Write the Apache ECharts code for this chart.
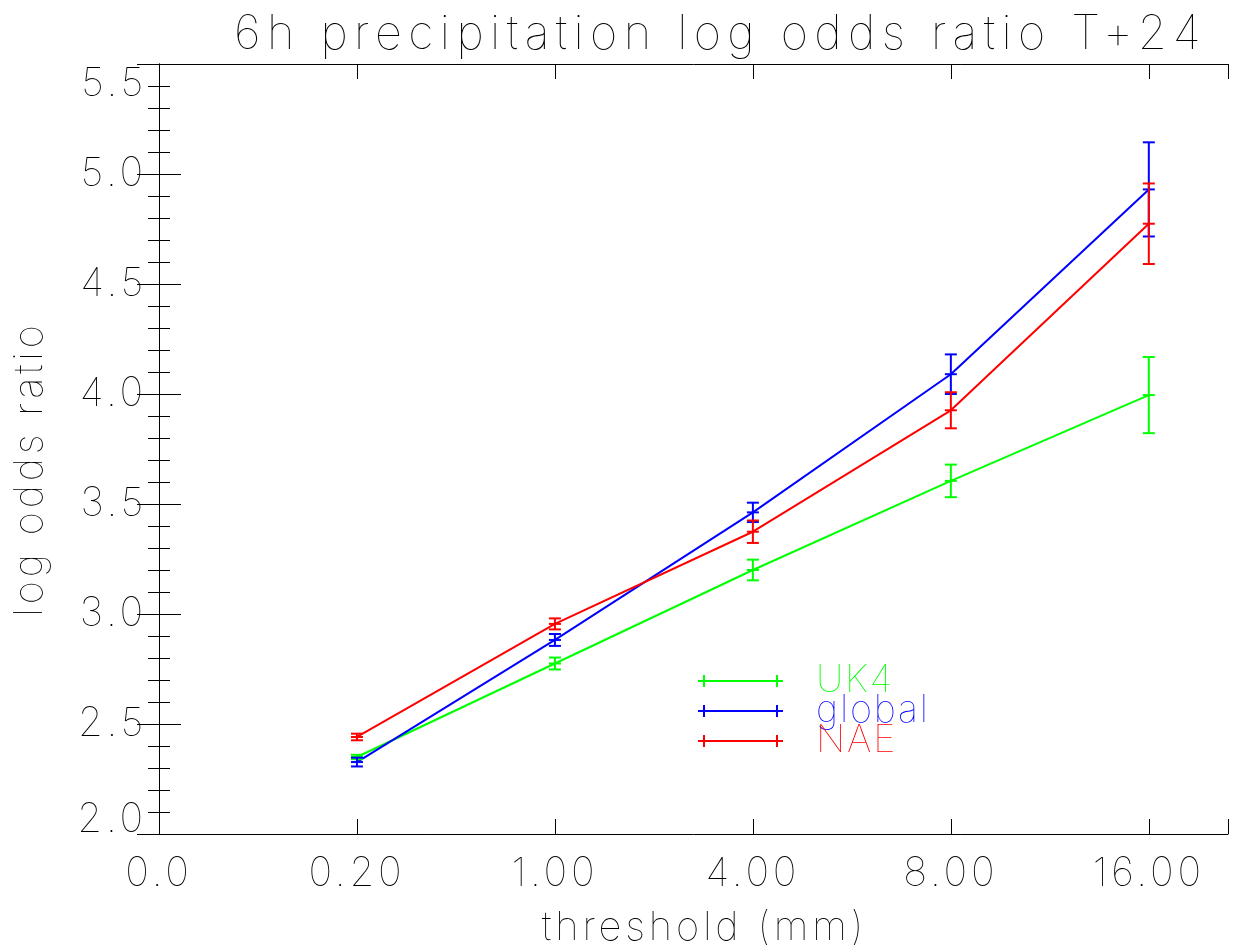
<!DOCTYPE html>
<html>
<head>
<meta charset="utf-8">
<script src="https://cdn.jsdelivr.net/npm/echarts@6/dist/echarts.min.js"></script>
<style>html,body{margin:0;padding:0;background:#fff}#c{width:1244px;height:945px}</style>
</head>
<body>
<div id="c"></div>
<script>
// ---- data ----
const thresholds = ['0.20', '1.00', '4.00', '8.00', '16.00'];
const xTickLabels = ['0.0', '0.20', '1.00', '4.00', '8.00', '16.00'];
const uk4Values   = [2.35, 2.775, 3.20, 3.605, 3.995];
const uk4Errors   = [0.010, 0.027, 0.047, 0.074, 0.173];
const globalValues = [2.327, 2.882, 3.462, 4.090, 4.930];
const globalErrors = [0.020, 0.027, 0.044, 0.090, 0.214];
const naeValues   = [2.441, 2.955, 3.374, 3.926, 4.774];
const naeErrors   = [0.015, 0.025, 0.051, 0.082, 0.183];

// Wide letter spacing like the original plotting font
(function () {
  const P = CanvasRenderingContext2D.prototype;
  function spacingFor(font) {
    const m = /(\d+(?:\.\d+)?)px/.exec(font || '');
    const s = m ? parseFloat(m[1]) : 12;
    if (s >= 45) return 6.4;
    if (s >= 39.5) return 3.8;
    if (s >= 37) return 1.8;
    return 0;
  }
  ['fillText', 'strokeText', 'measureText'].forEach(function (fn) {
    const orig = P[fn];
    P[fn] = function () {
      try { this.letterSpacing = spacingFor(this.font) + 'px'; } catch (e) {}
      return orig.apply(this, arguments);
    };
  });
})();

const FONT = 'Inter';
const TXT = '#000';
const W = 100;

function lineData(vals) { return vals.map((v, i) => [i + 1, v]); }
function errData(vals, errs) { return vals.map((v, i) => [i + 1, v, v - errs[i], v + errs[i]]); }

function errSeries(name, vals, errs, color) {
  return {
    name: name, type: 'custom', xAxisIndex: 0, yAxisIndex: 0, z: 3,
    data: errData(vals, errs),
    renderItem: function (params, api) {
      const c = api.coord([api.value(0), api.value(1)]);
      const lo = api.coord([api.value(0), api.value(2)]);
      const hi = api.coord([api.value(0), api.value(3)]);
      const w = 6;
      const st = { stroke: color, lineWidth: 2 };
      return { type: 'group', children: [
        { type: 'line', shape: { x1: c[0], y1: lo[1], x2: c[0], y2: hi[1] }, style: st },
        { type: 'line', shape: { x1: c[0] - w, y1: lo[1], x2: c[0] + w, y2: lo[1] }, style: st },
        { type: 'line', shape: { x1: c[0] - w, y1: hi[1], x2: c[0] + w, y2: hi[1] }, style: st },
        { type: 'line', shape: { x1: c[0] - w, y1: c[1], x2: c[0] + w, y2: c[1] }, style: st }
      ]};
    }
  };
}
function lineSeries(name, vals, color) {
  return {
    name: name, type: 'line', xAxisIndex: 0, yAxisIndex: 0, z: 2,
    data: lineData(vals), showSymbol: false, symbol: 'none', silent: true,
    lineStyle: { color: color, width: 2 }, itemStyle: { color: color }
  };
}

const GREEN = '#00ff00', BLUE = '#0000ff', RED = '#ff0000';
const legendIcon = 'path://M0,5h85v2h-85z M5,0h2v12h-2z M78,0h2v12h-2z';

const axisLineStyle = { show: true, lineStyle: { color: '#000', width: 1 } };
const yLabelFmt = function (v) {
  const s = v.toFixed(1);
  if (Math.abs(v - 5.5) < 1e-6) return '{top|' + s + '}';
  if (Math.abs(v - 2.0) < 1e-6) return '{bot|' + s + '}';
  return s;
};
const labelFont = { fontFamily: FONT, fontWeight: W, fontSize: 40, color: TXT };

const option = {
  animation: false,
  backgroundColor: '#fff',
  title: {
    text: '6h precipitation log odds ratio T+24',
    left: 234, top: 8, padding: 0,
    textStyle: { fontFamily: FONT, fontWeight: W, fontSize: 47, color: TXT }
  },
  legend: {
    orient: 'vertical', left: 698, top: 659, itemGap: -14, padding: 0,
    itemWidth: 85, itemHeight: 12,
    textStyle: { fontFamily: FONT, fontWeight: W, fontSize: 38, lineHeight: 30, padding: [0, 0, 14, 28] },
    data: [
      { name: 'UK4', icon: legendIcon, textStyle: { color: GREEN } },
      { name: 'global', icon: legendIcon, textStyle: { color: BLUE } },
      { name: 'NAE', icon: legendIcon, textStyle: { color: RED } }
    ],
    selectedMode: false
  },
  grid: { left: 159, top: 64, right: 16, bottom: 111, containLabel: false, outerBoundsMode: 'none' },
  xAxis: [
    {
      type: 'value', min: 0, max: 5.4, interval: 1, position: 'bottom',
      name: 'threshold (mm)', nameLocation: 'middle', nameGap: 72,
      nameTextStyle: { fontFamily: FONT, fontWeight: W, fontSize: 40, color: TXT, padding: [0, 0, 0, 22] },
      axisLine: axisLineStyle,
      axisTick: { show: true, inside: true, length: 15, lineStyle: { color: '#000' } },
      axisLabel: Object.assign({ margin: 18, formatter: function (v) {
        return Number.isInteger(v) && v < xTickLabels.length ? xTickLabels[v] : '';
      } }, labelFont),
      splitLine: { show: false }
    },
    {
      type: 'value', min: 0, max: 5.4, interval: 1, position: 'top',
      axisLine: axisLineStyle,
      axisTick: { show: true, inside: true, length: 15, lineStyle: { color: '#000' } },
      axisLabel: { show: false }, splitLine: { show: false }
    }
  ],
  yAxis: [
    {
      type: 'value', min: 2.0, max: 5.5, interval: 0.5, position: 'left',
      name: 'log odds ratio', nameLocation: 'middle', nameGap: 107,
      nameTextStyle: { fontFamily: FONT, fontWeight: W, fontSize: 40, color: TXT, padding: [0, 40, 0, 0] },
      axisLine: axisLineStyle,
      axisTick: { show: true, inside: true, length: 22, lineStyle: { color: '#000' } },
      minorTick: { show: true, splitNumber: 5, length: 11, lineStyle: { color: '#000' } },
      axisLabel: Object.assign({ margin: 12, formatter: yLabelFmt,
        rich: {
          top: Object.assign({ padding: [40, 0, 0, 0] }, labelFont),
          bot: Object.assign({ padding: [0, 0, 28, 0] }, labelFont)
        } }, labelFont),
      splitLine: { show: false }
    },
    {
      type: 'value', min: 2.0, max: 5.5, interval: 0.5, position: 'right',
      axisLine: axisLineStyle,
      axisTick: { show: true, inside: true, length: 22, lineStyle: { color: '#000' } },
      minorTick: { show: true, splitNumber: 5, length: 11, lineStyle: { color: '#000' } },
      axisLabel: { show: false }, splitLine: { show: false }
    }
  ],
  series: [
    lineSeries('UK4', uk4Values, GREEN),
    lineSeries('global', globalValues, BLUE),
    lineSeries('NAE', naeValues, RED),
    errSeries('UK4', uk4Values, uk4Errors, GREEN),
    errSeries('global', globalValues, globalErrors, BLUE),
    errSeries('NAE', naeValues, naeErrors, RED)
  ]
};

const chart = echarts.init(document.getElementById('c'), null, { renderer: 'canvas' });
chart.setOption(option);
</script>
</body>
</html>
